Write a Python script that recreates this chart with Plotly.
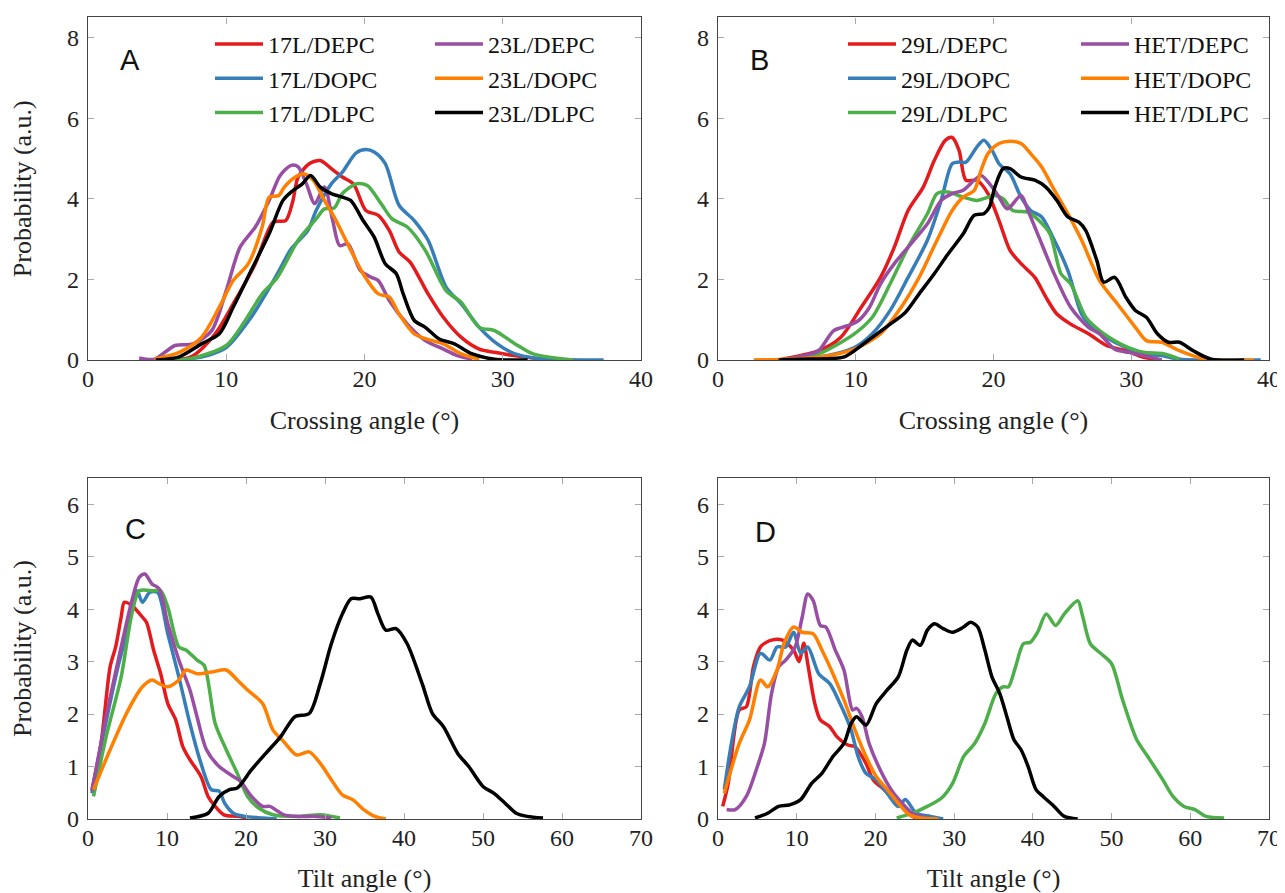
import plotly.graph_objects as go

# ---------------- Panel A : crossing angle ----------------
A_17L_DEPC_x = [5.0, 7.4, 9.2, 10.5, 12.1, 13.4, 14.3, 14.8, 15.2, 16.0, 16.8, 17.6, 18.4, 19.2, 20.1, 21.0, 21.8, 22.5, 23.3, 24.6, 25.7, 27.0, 28.3, 29.4, 30.4, 33.3]
A_17L_DEPC_y = [0, 0.07, 0.65, 1.39, 2.39, 3.42, 3.46, 3.92, 4.54, 4.87, 4.95, 4.75, 4.54, 4.37, 3.71, 3.59, 3.21, 2.68, 2.43, 1.64, 1.06, 0.56, 0.27, 0.19, 0.13, 0]
A_17L_DOPC_x = [6.6, 8.5, 10.0, 11.8, 13.7, 14.7, 15.9, 16.5, 17.6, 18.4, 19.4, 20.1, 20.7, 21.5, 22.5, 23.6, 24.6, 25.9, 27.0, 28.3, 29.6, 30.9, 32.5, 37.3]
A_17L_DOPC_y = [0, 0.1, 0.31, 1.06, 2.14, 2.76, 3.21, 3.71, 4.37, 4.66, 5.14, 5.22, 5.16, 4.87, 3.84, 3.46, 2.97, 1.81, 1.39, 0.81, 0.40, 0.15, 0.04, 0]
A_17L_DLPC_x = [6.0, 7.4, 10.0, 11.3, 12.6, 13.7, 15.2, 16.5, 17.1, 17.8, 18.4, 19.4, 20.2, 21.2, 22.0, 23.1, 24.4, 25.9, 27.0, 28.3, 29.4, 30.9, 32.2, 35.1]
A_17L_DLPC_y = [0, 0.03, 0.36, 0.94, 1.64, 2.05, 2.97, 3.5, 3.75, 3.77, 4.13, 4.37, 4.33, 3.88, 3.5, 3.3, 2.72, 1.72, 1.43, 0.81, 0.73, 0.4, 0.15, 0]
A_23L_DEPC_x = [3.7, 4.8, 6.3, 7.6, 8.95, 10.0, 11.0, 12.1, 13.1, 13.9, 14.7, 15.2, 15.8, 16.4, 17.1, 17.7, 18.2, 18.8, 19.7, 20.5, 21.0, 21.8, 23.1, 24.4, 25.7, 26.7, 27.8]
A_23L_DEPC_y = [0.05, 0.02, 0.36, 0.40, 0.73, 1.72, 2.8, 3.3, 3.96, 4.58, 4.83, 4.79, 4.37, 3.88, 4.29, 3.46, 2.84, 2.88, 2.22, 2.05, 1.97, 1.47, 0.89, 0.48, 0.27, 0.11, 0.02]
A_23L_DOPC_x = [4.8, 6.6, 8.2, 9.5, 10.5, 11.6, 12.6, 13.1, 13.8, 14.2, 15.0, 15.6, 16.3, 17.1, 17.8, 18.9, 19.9, 21.0, 21.8, 22.5, 23.6, 24.9, 25.7, 27.0, 28.3]
A_23L_DOPC_y = [0.02, 0.19, 0.56, 1.31, 1.97, 2.39, 3.30, 4.04, 4.08, 4.29, 4.54, 4.62, 4.46, 3.96, 3.55, 2.80, 2.14, 1.64, 1.56, 1.14, 0.65, 0.48, 0.40, 0.15, 0.02]
A_23L_DLPC_x = [4.9, 6.6, 8.2, 9.5, 10.5, 11.8, 13.1, 14.1, 14.7, 15.5, 16.1, 16.8, 17.6, 18.4, 19.0, 19.9, 20.7, 21.5, 22.3, 22.8, 23.6, 24.4, 25.4, 26.5, 27.8, 29.4, 31.8]
A_23L_DLPC_y = [0, 0.08, 0.40, 0.65, 1.31, 2.22, 3.13, 3.96, 4.17, 4.37, 4.58, 4.29, 4.13, 4.04, 3.96, 3.46, 3.05, 2.39, 2.14, 1.64, 0.98, 0.81, 0.52, 0.40, 0.15, 0.02, 0]

# ---------------- Panel B : crossing angle ----------------
B_29L_DEPC_x = [4.4, 7.3, 8.9, 10.4, 11.8, 12.8, 13.8, 14.9, 15.7, 16.5, 17.0, 17.5, 18.0, 18.8, 19.6, 20.4, 21.2, 22.0, 23.0, 23.8, 24.6, 25.6, 26.9, 28.2, 29.6, 30.9, 32.2]
B_29L_DEPC_y = [0, 0.23, 0.56, 1.31, 2.05, 2.80, 3.71, 4.29, 4.95, 5.45, 5.52, 5.2, 4.46, 4.46, 4.13, 3.46, 2.72, 2.39, 2.05, 1.56, 1.14, 0.89, 0.65, 0.36, 0.23, 0.07, 0]
B_29L_DOPC_x = [4.4, 7.3, 9.9, 11.2, 12.5, 13.8, 15.2, 16.2, 17.0, 17.5, 18.0, 18.8, 19.3, 19.9, 20.4, 21.2, 22.0, 22.7, 23.5, 24.3, 25.4, 26.4, 27.2, 28.2, 29.6, 30.9, 32.2, 33.5, 39.4]
B_29L_DOPC_y = [0, 0.07, 0.31, 0.65, 1.23, 2.05, 2.97, 3.96, 4.87, 4.91, 4.91, 5.29, 5.45, 5.2, 4.87, 4.62, 4.04, 3.71, 3.55, 3.05, 2.22, 1.14, 0.81, 0.56, 0.31, 0.15, 0.11, 0.02, 0]
B_29L_DLPC_x = [5.5, 7.3, 9.9, 11.2, 12.5, 13.8, 15.2, 15.9, 16.7, 17.8, 18.8, 20.1, 20.7, 21.4, 22.5, 23.3, 24.1, 24.9, 25.6, 26.7, 27.7, 28.8, 29.8, 30.9, 32.4, 33.5]
B_29L_DLPC_y = [0, 0.15, 0.65, 1.06, 1.89, 2.80, 3.63, 4.13, 4.17, 4.04, 3.96, 4.08, 4.0, 3.71, 3.67, 3.46, 3.13, 2.14, 1.89, 1.06, 0.73, 0.48, 0.31, 0.19, 0.15, 0.02]
B_HET_DEPC_x = [4.7, 6.5, 7.3, 8.4, 9.4, 10.2, 11.0, 11.8, 12.8, 13.8, 15.2, 16.2, 17.0, 17.8, 18.6, 19.1, 19.9, 20.4, 21.0, 22.0, 22.5, 23.3, 24.3, 25.6, 26.9, 27.7, 28.8, 29.8, 30.9, 32.2]
B_HET_DEPC_y = [0, 0.13, 0.23, 0.73, 0.85, 0.98, 1.31, 1.89, 2.39, 2.80, 3.38, 3.96, 4.13, 4.21, 4.46, 4.58, 4.29, 4.04, 3.75, 4.08, 3.71, 3.05, 2.22, 1.31, 0.81, 0.65, 0.27, 0.19, 0.11, 0]
B_HET_DOPC_x = [2.6, 7.3, 9.9, 11.8, 13.3, 14.6, 15.9, 17.0, 17.8, 18.6, 19.1, 19.6, 20.4, 21.2, 22.0, 22.7, 23.5, 24.3, 25.4, 26.4, 27.7, 29.0, 30.3, 31.1, 32.2, 33.5, 34.8, 36.1, 38.9]
B_HET_DOPC_y = [0, 0.07, 0.27, 0.65, 1.31, 2.05, 2.97, 3.71, 4.04, 4.21, 4.71, 5.12, 5.37, 5.43, 5.37, 5.12, 4.79, 4.29, 3.63, 2.97, 1.97, 1.39, 0.81, 0.48, 0.44, 0.23, 0.07, 0, 0]
B_HET_DLPC_x = [4.4, 6.0, 9.1, 9.9, 11.2, 12.5, 13.6, 14.6, 15.7, 16.7, 17.8, 18.6, 19.3, 19.7, 20.1, 20.7, 21.2, 22.0, 23.0, 23.8, 24.6, 25.4, 26.2, 26.7, 27.5, 28.0, 28.8, 29.6, 30.3, 31.1, 31.9, 32.7, 33.5, 34.5, 35.8, 38.2]
B_HET_DLPC_y = [0, 0.02, 0.07, 0.23, 0.56, 0.89, 1.18, 1.64, 2.14, 2.63, 3.13, 3.59, 3.63, 3.79, 4.29, 4.75, 4.75, 4.54, 4.46, 4.29, 3.96, 3.55, 3.42, 3.21, 2.47, 1.93, 2.05, 1.56, 1.23, 1.06, 0.65, 0.44, 0.44, 0.23, 0.02, 0]

# ---------------- Panel C : tilt angle ----------------
C_17L_DEPC_x = [0.5, 1.65, 2.8, 3.5, 4.2, 4.6, 5.55, 6.7, 7.4, 8.3, 9.2, 10.1, 11.1, 12.0, 12.9, 14.3, 15.2, 16.1, 17.2, 18.9, 20.2]
C_17L_DEPC_y = [0.56, 1.44, 2.9, 3.28, 3.85, 4.13, 4.07, 3.88, 3.75, 3.22, 2.77, 2.2, 1.89, 1.38, 1.13, 0.81, 0.43, 0.24, 0.08, 0.05, 0.02]
C_17L_DOPC_x = [0.5, 1.9, 3.7, 5.1, 6.2, 6.9, 7.8, 8.8, 10.1, 11.5, 12.9, 14.3, 15.6, 16.6, 17.3, 18.4, 19.8, 22.1, 23.9]
C_17L_DOPC_y = [0.49, 1.57, 2.84, 3.66, 4.35, 4.13, 4.32, 4.32, 3.53, 2.71, 1.82, 1.06, 0.56, 0.53, 0.30, 0.11, 0.05, 0.02, 0]
C_17L_DLPC_x = [0.7, 2.3, 4.2, 5.55, 6.5, 8.3, 9.2, 10.1, 11.5, 12.4, 13.8, 14.7, 16.1, 17.5, 18.9, 20.2, 21.6, 23.4, 26.7, 29.4, 31.9]
C_17L_DLPC_y = [0.43, 1.57, 2.71, 3.91, 4.35, 4.35, 4.35, 4.04, 3.28, 3.22, 3.03, 2.93, 1.82, 1.32, 0.87, 0.43, 0.21, 0.08, 0.05, 0.08, 0.02]
C_23L_DEPC_x = [0.5, 2.3, 4.2, 5.55, 6.5, 7.2, 8.1, 9.0, 10.1, 11.5, 12.9, 13.8, 15.0, 16.6, 18.4, 19.3, 20.7, 22.1, 23.0, 24.8, 26.7, 28.9, 30.8]
C_23L_DEPC_y = [0.53, 1.95, 3.28, 4.16, 4.61, 4.67, 4.48, 4.39, 3.72, 3.03, 2.46, 1.95, 1.32, 1.0, 0.81, 0.72, 0.43, 0.24, 0.24, 0.08, 0.05, 0.05, 0.02]
C_23L_DOPC_x = [0.7, 2.8, 5.1, 6.9, 8.1, 9.0, 10.1, 11.5, 12.4, 13.8, 15.6, 17.5, 18.9, 20.2, 22.1, 23.4, 24.8, 26.4, 28.0, 29.4, 30.8, 32.2, 33.5, 34.9, 36.3, 37.7]
C_23L_DOPC_y = [0.56, 1.32, 2.08, 2.52, 2.65, 2.58, 2.52, 2.65, 2.84, 2.77, 2.80, 2.84, 2.65, 2.46, 2.2, 1.70, 1.47, 1.22, 1.28, 1.06, 0.75, 0.46, 0.37, 0.18, 0.05, 0]
C_23L_DLPC_x = [12.9, 15.2, 16.6, 17.9, 18.9, 20.7, 22.5, 24.4, 26.2, 28.0, 29.4, 30.8, 32.2, 33.3, 34.4, 35.8, 36.7, 37.7, 39.0, 40.4, 42.3, 43.6, 45.0, 46.8, 48.2, 50.0, 51.4, 52.8, 54.2, 55.6, 57.6]
C_23L_DLPC_y = [0.02, 0.11, 0.43, 0.56, 0.59, 0.94, 1.25, 1.57, 1.95, 2.01, 2.58, 3.34, 3.91, 4.2, 4.2, 4.23, 3.91, 3.6, 3.63, 3.34, 2.58, 2.01, 1.76, 1.25, 1.0, 0.62, 0.49, 0.30, 0.11, 0.05, 0.02]

# ---------------- Panel D : tilt angle ----------------
D_29L_DEPC_x = [0.6, 1.3, 2.7, 3.6, 4.5, 5.4, 6.8, 8.2, 9.6, 10.3, 10.9, 11.4, 12.3, 13.0, 14.2, 15.1, 16.5, 17.4, 18.8, 19.7, 21.1, 22.4, 23.4, 24.7, 26.1]
D_29L_DEPC_y = [0.24, 0.68, 2.08, 2.14, 2.9, 3.28, 3.41, 3.41, 3.22, 3.0, 3.35, 2.96, 2.2, 1.89, 1.76, 1.57, 1.41, 1.38, 1.06, 0.75, 0.56, 0.37, 0.24, 0.05, 0]
D_29L_DOPC_x = [0.8, 1.7, 2.7, 4.0, 5.4, 6.6, 7.5, 8.6, 9.6, 10.5, 11.4, 12.8, 14.2, 15.5, 16.9, 17.8, 18.8, 20.1, 21.5, 22.9, 23.8, 25.2, 27.0, 28.6]
D_29L_DOPC_y = [0.56, 1.44, 2.14, 2.52, 3.16, 3.03, 3.28, 3.28, 3.56, 3.16, 3.28, 2.77, 2.58, 2.2, 1.7, 1.19, 0.87, 0.75, 0.49, 0.24, 0.37, 0.11, 0.05, 0]
D_29L_DLPC_x = [22.7, 24.7, 26.6, 28.4, 29.8, 31.2, 32.6, 33.9, 35.3, 36.2, 36.9, 37.8, 38.8, 39.7, 40.6, 41.7, 42.9, 44.0, 45.7, 46.3, 47.3, 48.6, 50.0, 51.4, 53.2, 54.6, 56.5, 57.8, 59.2, 60.6, 62.0, 64.3]
D_29L_DLPC_y = [0.02, 0.11, 0.24, 0.40, 0.68, 1.19, 1.44, 1.82, 2.39, 2.52, 2.52, 2.9, 3.34, 3.37, 3.56, 3.91, 3.69, 3.91, 4.16, 3.88, 3.34, 3.16, 2.96, 2.27, 1.51, 1.19, 0.75, 0.43, 0.24, 0.18, 0.05, 0.02]
D_HET_DEPC_x = [1.1, 2.2, 3.6, 5.0, 5.9, 6.8, 7.7, 8.6, 9.8, 10.7, 11.4, 12.1, 13.0, 13.7, 14.9, 16.0, 17.1, 17.6, 18.3, 19.2, 20.6, 22.0, 23.4, 24.7, 26.6]
D_HET_DEPC_y = [0.18, 0.18, 0.43, 1.0, 1.44, 2.39, 2.9, 3.03, 3.28, 3.85, 4.29, 4.16, 3.69, 3.66, 3.22, 2.84, 2.08, 2.11, 1.95, 1.44, 0.94, 0.56, 0.30, 0.11, 0.02]
D_HET_DOPC_x = [0.8, 2.7, 4.0, 5.4, 6.3, 7.5, 8.4, 9.6, 10.7, 12.1, 13.2, 14.6, 16.0, 17.4, 18.8, 20.1, 21.5, 22.9, 24.3, 25.7, 28.0]
D_HET_DOPC_y = [0.49, 1.44, 1.89, 2.65, 2.52, 2.84, 3.35, 3.66, 3.56, 3.53, 3.22, 2.77, 2.27, 1.7, 1.19, 0.81, 0.56, 0.30, 0.08, 0.02, 0]
D_HET_DLPC_x = [4.7, 6.3, 7.7, 9.1, 10.5, 11.9, 13.2, 14.6, 16.0, 16.9, 17.6, 18.8, 20.1, 21.5, 22.9, 24.0, 24.7, 25.7, 26.6, 27.5, 28.6, 29.8, 31.2, 32.1, 33.0, 33.9, 34.8, 35.8, 36.7, 37.6, 38.5, 39.4, 40.4, 41.3, 42.7, 44.0, 45.7]
D_HET_DLPC_y = [0.02, 0.11, 0.24, 0.27, 0.37, 0.68, 0.87, 1.19, 1.44, 1.82, 1.95, 1.79, 2.2, 2.46, 2.71, 3.22, 3.41, 3.31, 3.6, 3.72, 3.63, 3.56, 3.66, 3.75, 3.66, 3.22, 2.71, 2.39, 1.95, 1.51, 1.32, 1.0, 0.56, 0.43, 0.24, 0.05, 0]

# ---------------- labels / ticks ----------------
labels_A = ["17L/DEPC", "17L/DOPC", "17L/DLPC", "23L/DEPC", "23L/DOPC", "23L/DLPC"]
labels_B = ["29L/DEPC", "29L/DOPC", "29L/DLPC", "HET/DEPC", "HET/DOPC", "HET/DLPC"]
panel_letters = ["A", "B", "C", "D"]
crossing_ticks = [0, 10, 20, 30, 40]
tilt_ticks = [0, 10, 20, 30, 40, 50, 60, 70]
prob_ticks_top = [0, 2, 4, 6, 8]
prob_ticks_bottom = [0, 1, 2, 3, 4, 5, 6]

colors = ["#e41a1c", "#377eb8", "#4daf4a", "#984ea3", "#ff7f00", "#000000"]

serif = "Liberation Serif"
sans = "Liberation Sans"

fig = go.Figure()

panels = [
    ("x", "y", [(A_17L_DEPC_x, A_17L_DEPC_y), (A_17L_DOPC_x, A_17L_DOPC_y), (A_17L_DLPC_x, A_17L_DLPC_y),
                (A_23L_DEPC_x, A_23L_DEPC_y), (A_23L_DOPC_x, A_23L_DOPC_y), (A_23L_DLPC_x, A_23L_DLPC_y)],
     labels_A, ["legend", "legend", "legend", "legend2", "legend2", "legend2"], True),
    ("x2", "y2", [(B_29L_DEPC_x, B_29L_DEPC_y), (B_29L_DOPC_x, B_29L_DOPC_y), (B_29L_DLPC_x, B_29L_DLPC_y),
                  (B_HET_DEPC_x, B_HET_DEPC_y), (B_HET_DOPC_x, B_HET_DOPC_y), (B_HET_DLPC_x, B_HET_DLPC_y)],
     labels_B, ["legend3", "legend3", "legend3", "legend4", "legend4", "legend4"], True),
    ("x3", "y3", [(C_17L_DEPC_x, C_17L_DEPC_y), (C_17L_DOPC_x, C_17L_DOPC_y), (C_17L_DLPC_x, C_17L_DLPC_y),
                  (C_23L_DEPC_x, C_23L_DEPC_y), (C_23L_DOPC_x, C_23L_DOPC_y), (C_23L_DLPC_x, C_23L_DLPC_y)],
     labels_A, ["legend"] * 6, False),
    ("x4", "y4", [(D_29L_DEPC_x, D_29L_DEPC_y), (D_29L_DOPC_x, D_29L_DOPC_y), (D_29L_DLPC_x, D_29L_DLPC_y),
                  (D_HET_DEPC_x, D_HET_DEPC_y), (D_HET_DOPC_x, D_HET_DOPC_y), (D_HET_DLPC_x, D_HET_DLPC_y)],
     labels_B, ["legend"] * 6, False),
]

for pi, (xa, ya, series, labs, legs, show) in enumerate(panels):
    for i, ((xs, ys), lab, leg) in enumerate(zip(series, labs, legs)):
        fig.add_trace(go.Scatter(
            x=xs, y=ys, mode="lines", name=lab,
            line=dict(color=colors[i], width=3.5, shape="spline", smoothing=0.8),
            xaxis=xa, yaxis=ya, showlegend=show, legend=leg,
        ))

# page is rendered with an 8 px body margin: work in page pixels and convert
OFF = 8
W, H = 1285 - OFF, 893 - OFF
def px(v):
    return (v - OFF) / W
def py(v):
    return 1 - (v - OFF) / H

xdomL = [px(88), px(641)]
xdomR = [px(718), px(1269)]
ydomT = [py(360), py(17.4)]
ydomB = [py(819), py(478)]

tickfont = dict(family=serif, size=24, color="#222")
titlefont = dict(family=serif, size=26, color="#222")

def xaxis(dom, rng, ticks, title, anchor):
    return dict(domain=dom, range=rng, tickvals=ticks, ticks="inside", ticklen=6,
                tickcolor="#aaaaaa", showline=True, linecolor="#444444", linewidth=1.2,
                mirror="ticks", showgrid=False, zeroline=False, tickfont=tickfont,
                title=dict(text=title, font=titlefont, standoff=19), anchor=anchor,
                ticklabelstandoff=-3, automargin=False)

def yaxis(dom, rng, ticks, title, anchor):
    return dict(domain=dom, range=rng, tickvals=ticks, ticks="inside", ticklen=6,
                tickcolor="#aaaaaa", showline=True, linecolor="#444444", linewidth=1.2,
                mirror="ticks", showgrid=False, zeroline=False, tickfont=tickfont,
                title=dict(text=title, font=titlefont, standoff=29), anchor=anchor,
                ticklabelstandoff=3, automargin=False)

legend_common = dict(font=dict(family=serif, size=24, color="#111"), bgcolor="rgba(0,0,0,0)",
                     borderwidth=0, xanchor="left", yanchor="top", tracegroupgap=0,
                     itemwidth=48, orientation="v")

fig.update_layout(
    width=W, height=H,
    margin=dict(l=0, r=0, t=0, b=0, autoexpand=False),
    paper_bgcolor="white", plot_bgcolor="white",
    xaxis=xaxis(xdomL, [0, 40], crossing_ticks, "Crossing angle (°)", "y"),
    yaxis=yaxis(ydomT, [0, 8.5], prob_ticks_top, "Probability (a.u.)", "x"),
    xaxis2=xaxis(xdomR, [0, 40], crossing_ticks, "Crossing angle (°)", "y2"),
    yaxis2=yaxis(ydomT, [0, 8.5], prob_ticks_top, "", "x2"),
    xaxis3=xaxis(xdomL, [0, 70], tilt_ticks, "Tilt angle (°)", "y3"),
    yaxis3=yaxis(ydomB, [0, 6.5], prob_ticks_bottom, "Probability (a.u.)", "x3"),
    xaxis4=xaxis(xdomR, [0, 70], tilt_ticks, "Tilt angle (°)", "y4"),
    yaxis4=yaxis(ydomB, [0, 6.5], prob_ticks_bottom, "", "x4"),
    legend=dict(legend_common, x=px(210), y=py(22)),
    legend2=dict(legend_common, x=px(430), y=py(22)),
    legend3=dict(legend_common, x=px(843), y=py(22)),
    legend4=dict(legend_common, x=px(1076), y=py(22)),
    showlegend=True,
)

letter_pos = [(130, 60), (760, 60), (135, 529), (765, 532)]
for letter, (lx, ly) in zip(panel_letters, letter_pos):
    fig.add_annotation(text=letter, x=px(lx), y=py(ly), xref="paper", yref="paper",
                       showarrow=False, xanchor="center", yanchor="middle",
                       font=dict(family=sans, size=29, color="#111"))

fig.write_html("out.html")
